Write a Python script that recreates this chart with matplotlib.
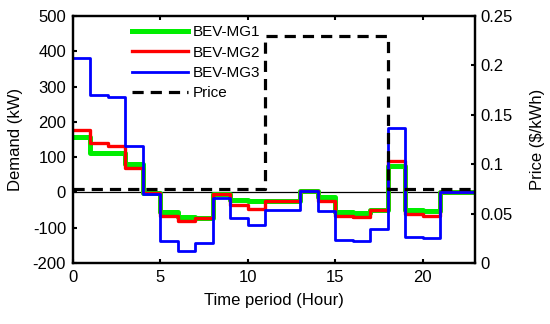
import matplotlib
matplotlib.use("Agg")
import matplotlib.pyplot as plt

plt.rcParams['font.family'] = ['Liberation Sans', 'DejaVu Sans']
plt.rcParams['axes.unicode_minus'] = False

# hours 0..23 (last value only closes the step at 23)
hours = list(range(24))
mg1 = [158, 111, 111, 80, -2, -56, -70, -73, -3, -20, -24, -25, -25, 5,
       -12, -56, -58, -50, 75, -50, -53, 0, 0, 0]
mg2 = [177, 141, 132, 68, -2, -67, -81, -73, -5, -36, -47, -25, -25, 3,
       -25, -67, -69, -50, 88, -61, -67, 0, 0, 0]
mg3 = [380, 276, 271, 132, -3, -137, -165, -144, -15, -72, -93, -50, -50, 3,
       -53, -135, -138, -104, 183, -125, -130, 0, 0, 0]
price = [0.075] * 11 + [0.23] * 7 + [0.075] * 6

fig = plt.figure(figsize=(5.5, 3.24), dpi=100)
ax = fig.add_axes([0.1327, 0.188, 0.7309, 0.7626])

ax.axhline(0, color='black', lw=0.9, zorder=1)
l1, = ax.plot(hours, mg1, drawstyle='steps-post', color='#00ee00', lw=3.6, label='BEV-MG1')
l2, = ax.plot(hours, mg2, drawstyle='steps-post', color='#ff0000', lw=2.4, label='BEV-MG2')
l3, = ax.plot(hours, mg3, drawstyle='steps-post', color='#0000ff', lw=2.0, label='BEV-MG3')

ax.set_xlim(0, 23)
ax.set_ylim(-200, 500)
ax.set_xticks([0, 5, 10, 15, 20])
ax.set_yticks(range(-200, 501, 100))
ax.set_xlabel("Time period (Hour)", fontsize=12, labelpad=6)
ax.set_ylabel("Demand (kW)", fontsize=12, labelpad=7)
ax.tick_params(direction='in', top=True, labelsize=12, width=1.5, length=3, pad=5)

ax2 = ax.twinx()
l4, = ax2.plot(hours, price, drawstyle='steps-post', color='black', lw=2.3,
               linestyle=(0, (3.5, 2.2)), label='Price')
ax2.set_ylim(0, 0.25)
ax2.set_yticks([0, 0.05, 0.1, 0.15, 0.2, 0.25])
ax2.set_yticklabels(['0', '0.05', '0.1', '0.15', '0.2', '0.25'])
ax2.set_ylabel("Price ($/kWh)", fontsize=12, labelpad=12)
ax2.tick_params(direction='in', labelsize=12, width=1.5, length=3, pad=4)

for a in (ax, ax2):
    for s in a.spines.values():
        s.set_linewidth(1.6)

ax2.legend(handles=[l1, l2, l3, l4], loc='upper left', bbox_to_anchor=(0.125, 1.0),
           frameon=False, fontsize=11, handlelength=3.65, labelspacing=0.42,
           handletextpad=0.33, borderaxespad=0.2)

fig.savefig("out.png", dpi=100)
